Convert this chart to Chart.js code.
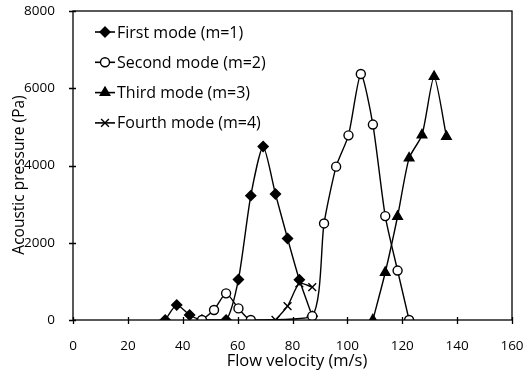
<!DOCTYPE html>
<html>
<head>
<meta charset="utf-8">
<script src="https://cdn.jsdelivr.net/npm/chart.js@4"></script>
<style>
  body { margin: 0; background: #fff; }
</style>
</head>
<body>
<canvas id="chart1" width="525" height="372"></canvas>
<script>
// values
var firstX  = [33.6, 37.8, 42.5, 47.0, 55.8, 60.3, 64.8, 69.3, 73.8, 78.2, 82.5, 87.2];
var firstY  = [0, 390, 130, 0, 0, 1050, 3220, 4490, 3260, 2110, 1040, 100];
var secondX = [47.0, 51.4, 55.8, 60.3, 64.8, 87.2, 91.5, 95.9, 100.4, 104.9, 109.3, 113.8, 118.3, 122.5];
var secondY = [0, 260, 690, 300, 0, 100, 2500, 3970, 4780, 6370, 5060, 2690, 1280, 0];
var thirdX  = [109.3, 113.8, 118.3, 122.5, 127.2, 131.6, 136.1];
var thirdY  = [0, 1230, 2680, 4190, 4790, 6300, 4750];
var fourthX = [73.8, 78.2, 82.5, 87.2];
var fourthY = [0, 360, 950, 850];

var seriesLabels = ["First mode (m=1)", "Second mode (m=2)", "Third mode (m=3)", "Fourth mode (m=4)"];
var xTitle = "Flow velocity (m/s)";
var yTitle = "Acoustic pressure (Pa)";

var FONT = "'Open Sans', 'Liberation Sans', sans-serif";

function pts(xs, ys) {
  return xs.map(function (x, i) { return {x: x, y: ys[i]}; });
}

function makeSet(label, xs, ys, style, fill, radius, order) {
  return {
    label: label,
    data: pts(xs, ys),
    borderColor: "#000",
    borderWidth: 1.4,
    pointStyle: style,
    pointRadius: radius,
    pointBackgroundColor: fill,
    pointBorderColor: "#000",
    pointBorderWidth: 1.4,
    tension: 0.22,
    order: order
  };
}

// frame, ticks crossing the axes, axis titles and the legend
var decor = {
  id: "decor",
  afterDraw: function (chart) {
    var ctx = chart.ctx, a = chart.chartArea;
    var xs = chart.scales.x, ys = chart.scales.y;
    ctx.save();
    ctx.strokeStyle = "#000";
    ctx.lineWidth = 1.3;
    ctx.strokeRect(a.left, a.top, a.right - a.left, a.bottom - a.top);
    ctx.beginPath();
    xs.ticks.forEach(function (t) {
      var px = Math.round(xs.getPixelForValue(t.value)) + 0.5;
      ctx.moveTo(px, a.bottom - 3);
      ctx.lineTo(px, a.bottom + 4);
    });
    ys.ticks.forEach(function (t) {
      var py = Math.round(ys.getPixelForValue(t.value)) + 0.5;
      ctx.moveTo(a.left - 4, py);
      ctx.lineTo(a.left + 3, py);
    });
    ctx.stroke();

    ctx.fillStyle = "#000";
    ctx.textAlign = "center";
    ctx.textBaseline = "middle";
    ctx.font = "16.5px " + FONT;
    ctx.fillText(xTitle, 297, 361);
    ctx.save();
    ctx.font = "15.5px " + FONT;
    ctx.translate(20, 175);
    ctx.rotate(-Math.PI / 2);
    ctx.fillText(yTitle, 0, 0);
    ctx.restore();

    // legend
    ctx.font = "16px " + FONT;
    ctx.textAlign = "left";
    chart.data.datasets.forEach(function (ds, i) {
      var y = 32 + i * 30.3;
      ctx.beginPath();
      ctx.lineWidth = 1.6;
      ctx.moveTo(95, y);
      ctx.lineTo(115, y);
      ctx.stroke();
      ctx.fillStyle = ds.pointBackgroundColor;
      ctx.lineWidth = ds.pointBorderWidth;
      Chart.helpers.drawPoint(ctx, {pointStyle: ds.pointStyle, radius: ds.pointRadius, rotation: 0, borderWidth: ds.pointBorderWidth}, 105, y);
      ctx.fillStyle = "#000";
      ctx.fillText(ds.label, 117, y + 1);
    });
    ctx.restore();
  }
};

new Chart(document.getElementById("chart1"), {
  type: "line",
  data: {
    datasets: [
      makeSet(seriesLabels[0], firstX, firstY, "rectRot", "#000", 5, 4),
      makeSet(seriesLabels[1], secondX, secondY, "circle", "#fff", 4.5, 3),
      makeSet(seriesLabels[2], thirdX, thirdY, "triangle", "#000", 5.5, 2),
      makeSet(seriesLabels[3], fourthX, fourthY, "crossRot", "#000", 5.5, 1)
    ]
  },
  options: {
    responsive: false,
    animation: false,
    layout: { padding: { top: 11, right: 13, left: 0, bottom: 0 } },
    plugins: { legend: { display: false }, tooltip: { enabled: false } },
    scales: {
      x: {
        type: "linear",
        min: 0, max: 160,
        grid: { display: false },
        border: { display: false },
        ticks: { stepSize: 20, padding: 10, color: "#000", font: { family: FONT, size: 13.5 },
                 callback: function (v) { return String(v); } },
        afterFit: function (s) { s.height = 52; s.paddingLeft = 0; s.paddingRight = 0; }
      },
      y: {
        min: 0, max: 8000,
        grid: { display: false },
        border: { display: false },
        ticks: { stepSize: 2000, padding: 10, color: "#000", font: { family: FONT, size: 13.5 },
                 callback: function (v) { return String(v); } },
        afterFit: function (s) { s.width = 73; s.paddingTop = 0; s.paddingBottom = 0; }
      }
    }
  },
  plugins: [decor]
});
</script>
</body>
</html>
